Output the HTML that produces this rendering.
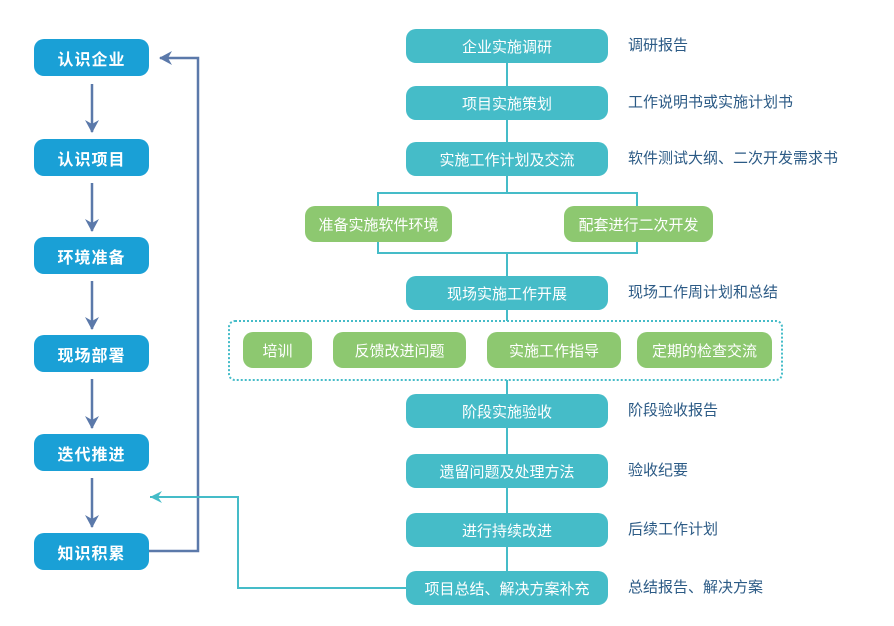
<!DOCTYPE html>
<html><head><meta charset="utf-8"><style>
body{margin:0;width:894px;height:626px;background:#fff;overflow:hidden;font-family:"Liberation Sans","Noto Sans CJK SC",sans-serif}
.b{position:absolute;color:#fff;display:flex;align-items:center;justify-content:center;font-size:15px;border-radius:10px}
.l{background:#1aa0d6;left:34px;width:115px;height:37px;font-size:16px;font-weight:bold;letter-spacing:1px}
.c{background:#45bcc8;left:406px;width:202px;height:34px}
.g{background:#8dc870;height:36px}
.t{position:absolute;left:628px;color:#2b5a85;font-size:15px;line-height:20px}
</style></head><body>
<svg width="894" height="626" style="position:absolute;left:0;top:0">
<defs>
<marker id="a" markerWidth="14" markerHeight="14" refX="12" refY="7" orient="auto" markerUnits="userSpaceOnUse"><path d="M0,0 L13,7 L0,14 L4,7z" fill="#5b79aa"/></marker>
<marker id="b" markerWidth="14" markerHeight="14" refX="12" refY="7" orient="auto" markerUnits="userSpaceOnUse"><path d="M0,1 L12,7 L0,13 L4,7z" fill="#45bcc8"/></marker>
</defs>
<g stroke="#5b79aa" stroke-width="2.5" fill="none">
<line x1="92" y1="84" x2="92" y2="132" marker-end="url(#a)"/>
<line x1="92" y1="183" x2="92" y2="231" marker-end="url(#a)"/>
<line x1="92" y1="281" x2="92" y2="329" marker-end="url(#a)"/>
<line x1="92" y1="379" x2="92" y2="428" marker-end="url(#a)"/>
<line x1="92" y1="478" x2="92" y2="527" marker-end="url(#a)"/>
<polyline points="149,551 198,551 198,58 160,58" marker-end="url(#a)"/>
</g>
<g stroke="#45bcc8" stroke-width="2" fill="none">
<polyline points="406,588 238,588 238,497 150,497" marker-end="url(#b)"/>
<line x1="507" y1="176" x2="507" y2="193"/>
<polyline points="378,206 378,193 637,193 637,206"/>
<polyline points="378,242 378,253 637,253 637,242"/>
<line x1="507" y1="253" x2="507" y2="276"/>
<line x1="507" y1="310" x2="507" y2="394"/>
<line x1="507" y1="428" x2="507" y2="454"/>
<line x1="507" y1="488" x2="507" y2="513"/>
<line x1="507" y1="547" x2="507" y2="571"/>
<line x1="507" y1="63" x2="507" y2="86"/>
<line x1="507" y1="120" x2="507" y2="142"/>
<rect x="229" y="321" width="553" height="59" rx="6" stroke-dasharray="2,2" fill="#fff"/>
</g>
</svg>
<div class="b l" style="top:39px">认识企业</div>
<div class="b l" style="top:139px">认识项目</div>
<div class="b l" style="top:237px">环境准备</div>
<div class="b l" style="top:335px">现场部署</div>
<div class="b l" style="top:434px">迭代推进</div>
<div class="b l" style="top:533px">知识积累</div>

<div class="b c" style="top:29px">企业实施调研</div>
<div class="b c" style="top:86px">项目实施策划</div>
<div class="b c" style="top:142px">实施工作计划及交流</div>
<div class="b g" style="left:305px;width:147px;top:206px">准备实施软件环境</div>
<div class="b g" style="left:564px;width:149px;top:206px">配套进行二次开发</div>
<div class="b c" style="top:276px">现场实施工作开展</div>
<div class="b g" style="left:243px;width:69px;top:332px">培训</div>
<div class="b g" style="left:333px;width:133px;top:332px">反馈改进问题</div>
<div class="b g" style="left:487px;width:134px;top:332px">实施工作指导</div>
<div class="b g" style="left:637px;width:135px;top:332px">定期的检查交流</div>
<div class="b c" style="top:394px">阶段实施验收</div>
<div class="b c" style="top:454px">遗留问题及处理方法</div>
<div class="b c" style="top:513px">进行持续改进</div>
<div class="b c" style="top:571px">项目总结、解决方案补充</div>

<div class="t" style="top:36px">调研报告</div>
<div class="t" style="top:93px">工作说明书或实施计划书</div>
<div class="t" style="top:149px">软件测试大纲、二次开发需求书</div>
<div class="t" style="top:283px">现场工作周计划和总结</div>
<div class="t" style="top:401px">阶段验收报告</div>
<div class="t" style="top:461px">验收纪要</div>
<div class="t" style="top:520px">后续工作计划</div>
<div class="t" style="top:578px">总结报告、解决方案</div>
</body></html>
